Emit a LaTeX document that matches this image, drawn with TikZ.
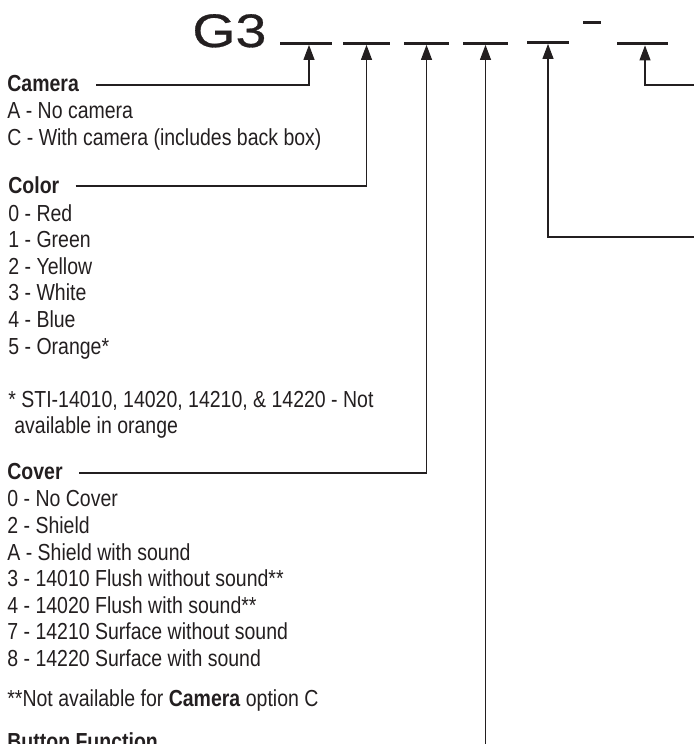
\documentclass[tikz,border=0pt]{standalone}
\usepackage{fontspec}
\setmainfont{Liberation Sans}[FakeStretch=0.84]
\newfontfamily\modelfont{Liberation Sans}[FakeStretch=1.18, FakeBold=0.6]
\usetikzlibrary{positioning,arrows.meta}
\definecolor{ink}{HTML}{231F20}

\begin{document}
\begin{tikzpicture}[
  x=0.5pt, y=-0.5pt,
  every node/.style={inner sep=0pt, text=ink},
  blank/.style={fill=ink, minimum width=#1, minimum height=1.5pt},
  head/.style={font=\fontsize{11.6}{13.3}\selectfont\bfseries, anchor=north west},
  items/.style={font=\fontsize{11.6}{13.3}\selectfont, align=left},
  flow/.style={-{Triangle[length=7.5pt, width=5.5pt]}, draw=ink, line width=0.55pt}
]
\useasboundingbox (0,0) rectangle (694,744);
\clip (0,0) rectangle (694,744);

% part number with its blanks
\node[font=\modelfont\fontsize{23.5}{23.5}\selectfont, anchor=base west] (model) at (192,47) {G3};
\node[blank=26pt] (b1) at (306,43) {};
\node[blank=23.5pt] (b2) at (366.5,43) {};
\node[blank=22.5pt] (b3) at (426.5,43) {};
\node[blank=22.5pt] (b4) at (485.5,43) {};
\node[blank=21pt] (b5) at (548,42) {};
\node[blank=9pt] (dash) at (592,22) {};
\node[blank=25.5pt] (b6) at (642.5,43.5) {};

% option lists
\node[head] (camhead) at (7,75) {Camera};
\node[items, below=5pt of camhead.south west, anchor=north west] (camitems)
  {A - No camera\\C - With camera (includes back box)};

\node[head] (colhead) at (8,176) {Color};
\node[items, below=5pt of colhead.south west, anchor=north west] (colitems)
  {0 - Red\\1 - Green\\2 - Yellow\\3 - White\\4 - Blue\\5 - Orange*\\[13.3pt]
   * STI-14010, 14020, 14210, \& 14220 - Not\\\hspace*{3pt}available in orange};

\node[head] (covhead) at (7,463) {Cover};
\node[items, below=5pt of covhead.south west, anchor=north west] (covitems)
  {0 - No Cover\\2 - Shield\\A - Shield with sound\\3 - 14010 Flush without sound**\\
   4 - 14020 Flush with sound**\\7 - 14210 Surface without sound\\8 - 14220 Surface with sound\\[6.5pt]
   **Not available for \textbf{Camera} option C};

\node[head] (btnhead) at (7,732) {Button Function};

% leaders up to the blanks
\coordinate (btnend) at (485.5,760);
\coordinate (optA) at (694,237);
\coordinate (optB) at (694,85);

\draw[flow] ([xshift=8.5pt, yshift=-5pt]camhead.north east) -| ([xshift=1.5pt]b1.south);
\draw[flow] ([xshift=8pt, yshift=-5pt]colhead.north east) -| (b2.south);
\draw[flow] ([xshift=8pt, yshift=-5pt]covhead.north east) -| (b3.south);
\draw[flow] (btnend) -- (b4.south);
\draw[flow] (optA) -| (b5.south);
\draw[flow] (optB) -| ([xshift=1.25pt]b6.south);
\end{tikzpicture}
\end{document}
